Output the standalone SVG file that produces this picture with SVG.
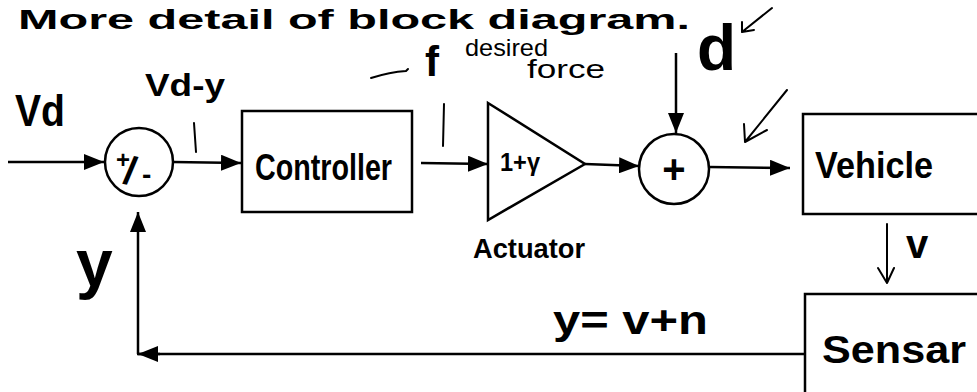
<svg xmlns="http://www.w3.org/2000/svg" width="977" height="392" viewBox="0 0 977 392">
<style>
  .ln{stroke:#000;stroke-width:2.5;fill:none}
  .box{stroke:#000;stroke-width:2.5;fill:#fff}
  .hw{font-family:"Liberation Sans","DejaVu Sans",sans-serif;font-weight:bold;fill:#000}
  .thin{font-family:"Liberation Sans","DejaVu Sans",sans-serif;fill:#000}
  .pen{stroke:#000;stroke-width:2;fill:none;stroke-linecap:round;stroke-linejoin:round}
</style>
<defs>
  <marker id="ah" viewBox="0 0 20 16" refX="20" refY="8" markerWidth="20" markerHeight="16" markerUnits="userSpaceOnUse" orient="auto">
    <path d="M0,0 L20,8 L0,16 Z" fill="#000"/>
  </marker>
</defs>
<rect width="977" height="392" fill="#fff"/>

<text class="hw" x="18" y="29" font-size="28" textLength="672" lengthAdjust="spacingAndGlyphs">More detail of block diagram.</text>

<g id="connectors">
  <line class="ln" x1="8" y1="162" x2="104" y2="162" marker-end="url(#ah)"/>
  <line class="ln" x1="173" y1="162" x2="241" y2="163" marker-end="url(#ah)"/>
  <line class="ln" x1="421" y1="163" x2="488" y2="164" marker-end="url(#ah)"/>
  <line class="ln" x1="585" y1="164" x2="639" y2="166" marker-end="url(#ah)"/>
  <line class="ln" x1="676" y1="53" x2="676" y2="133" marker-end="url(#ah)"/>
  <line class="ln" x1="709" y1="167" x2="790" y2="168" marker-end="url(#ah)"/>
  <polyline class="ln" points="805,354 137,354"/>
  <line class="ln" x1="160" y1="354" x2="138" y2="354" marker-end="url(#ah)"/>
  <line class="ln" x1="138" y1="354" x2="138" y2="212" marker-end="url(#ah)"/>
  <path class="pen" stroke-width="3" d="M887,224 L887,282 M878,268 L887,283 L894,268"/>
  <path class="pen" d="M787,90 L745,142 M745,142 L767,130 M745,142 L744,124"/>
  <path class="pen" d="M772,8 L742,32 M742,32 L754,30 M742,32 L742,22"/>
  <path class="pen" stroke-width="2.5" d="M194,123 L196,152"/>
  <path class="pen" stroke-width="2.5" d="M444,104 L443,146"/>
  <path class="pen" stroke-width="2.5" d="M371,78 Q390,72 406,71 L408,69"/>
</g>

<g id="sum1">
  <circle class="box" cx="139" cy="162" r="34"/>
  <text class="hw" x="116" y="168" font-size="24">+</text>
  <text class="hw" font-size="40" transform="translate(122,183) rotate(12)">/</text>
  <text class="hw" x="142" y="184" font-size="28">-</text>
</g>

<g id="controller">
  <rect class="box" x="242" y="111" width="170" height="101"/>
  <text class="hw" x="255" y="180" font-size="36" textLength="137" lengthAdjust="spacingAndGlyphs">Controller</text>
</g>

<g id="actuator">
  <polygon class="box" points="488,103 585,164 488,220"/>
  <text class="hw" x="500" y="171" font-size="26" textLength="40" lengthAdjust="spacingAndGlyphs">1+γ</text>
  <text class="hw" x="473" y="258" font-size="28" textLength="112" lengthAdjust="spacingAndGlyphs">Actuator</text>
</g>

<g id="sum2">
  <circle class="box" cx="674" cy="169" r="35"/>
  <text class="hw" x="674" y="183" font-size="40" text-anchor="middle">+</text>
</g>

<g id="vehicle">
  <rect class="box" x="803" y="114" width="190" height="100"/>
  <text class="hw" x="815" y="178" font-size="36" textLength="118" lengthAdjust="spacingAndGlyphs">Vehicle</text>
</g>

<g id="sensor">
  <rect class="box" x="805" y="294" width="190" height="120"/>
  <text class="hw" x="822" y="363" font-size="38" textLength="144" lengthAdjust="spacingAndGlyphs">Sensar</text>
</g>

<g id="labels">
  <text class="hw" x="15" y="126" font-size="44" textLength="50" lengthAdjust="spacingAndGlyphs">Vd</text>
  <text class="hw" x="145" y="96" font-size="32" textLength="80" lengthAdjust="spacingAndGlyphs">Vd-y</text>
  <text class="hw" x="76" y="286" font-size="66">y</text>
  <text class="hw" x="553" y="334" font-size="40" textLength="155" lengthAdjust="spacingAndGlyphs">y= v+n</text>
  <text class="hw" x="425" y="76" font-size="42">f</text>
  <text class="thin" x="465" y="56" font-size="24" textLength="83" lengthAdjust="spacingAndGlyphs">desired</text>
  <text class="thin" x="527" y="78" font-size="26" textLength="78" lengthAdjust="spacingAndGlyphs">force</text>
  <text class="hw" x="697" y="70" font-size="64">d</text>
  <text class="hw" x="906" y="258" font-size="40">v</text>
</g>
</svg>
